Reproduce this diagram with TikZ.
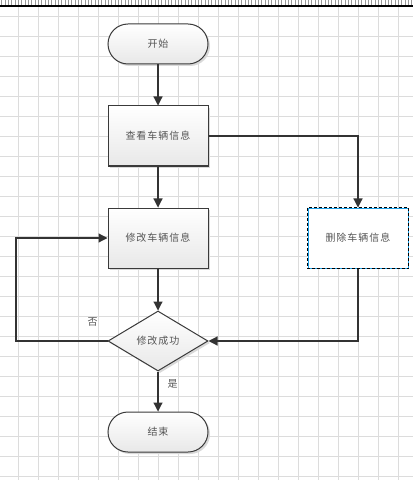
\documentclass[tikz,border=0pt]{standalone}
\usepackage{fontspec}
\newfontfamily\cjk[LetterSpace=10]{Noto Sans CJK SC}
\usetikzlibrary{shapes.geometric,arrows.meta,shadows}
\definecolor{gridc}{HTML}{DCDCDC}
\definecolor{linec}{HTML}{333333}
\definecolor{txtc}{HTML}{555555}
\definecolor{boxb}{HTML}{3A3A3A}
\definecolor{bluec}{HTML}{1CA0E8}
\tikzset{
  txt/.style={text=txtc, font=\cjk\fontsize{10bp}{12bp}\selectfont},
  base/.style={draw=boxb, line width=1bp, top color=white, bottom color=black!9,
    drop shadow={shadow xshift=2bp, shadow yshift=-2bp, fill=black!15, opacity=1},
    txt, inner sep=0pt},
  term/.style={base, minimum width=100bp, minimum height=40bp, rounded corners=20bp},
  proc/.style={base, minimum width=100bp, minimum height=60bp},
  plainproc/.style={draw=bluec, line width=1bp, fill=white, txt, inner sep=0pt,
    minimum width=100bp, minimum height=60bp},
  dec/.style={base, diamond, aspect=1.667, minimum width=100bp, minimum height=60bp},
  arr/.style={draw=linec, line width=1.2bp, -{Triangle[length=9bp,width=9bp]}},
  lbl/.style={txt, inner sep=0pt}
}
\begin{document}
\begin{tikzpicture}[x=1bp,y=-1bp]
\useasboundingbox (0,0) rectangle (413,480);
\fill[white] (0,0) rectangle (413,480);
% grid
\foreach \k in {0,...,23} \draw[gridc, line width=0.8bp] (0,16+20*\k) -- (413,16+20*\k);
\foreach \k in {0,...,19} \draw[gridc, line width=0.8bp] (18+20*\k,6.5) -- (18+20*\k,480);
% ruler
\foreach \i in {0,...,124} \draw[black!40, line width=0.7bp] (1.7+\i*3.333,0) -- (1.7+\i*3.333,5.5);
\draw[black, line width=1.2bp] (0,6) -- (413,6);
% nodes
\node[term] (start) at (158,44) {开始};
\node[proc] (view) at (158,136) {查看车辆信息};
\node[proc] (edit) at (158,238) {修改车辆信息};
\node[plainproc] (del) at (358,238) {删除车辆信息};
\draw[black, line width=1bp, dash pattern=on 3bp off 2bp] (del.north west) rectangle (del.south east);
\node[dec] (ok) at (158,341) {修改成功};
\node[term] (end) at (158,432) {结束};
\coordinate (lc) at (16,341);
\node[lbl] (no) at (92.5,321.5) {否};
\node[lbl] (yes) at (172.5,383.5) {是};
% connectors
\draw[arr] (start) -- (view);
\draw[arr] (view) -- (edit);
\draw[arr] (view.east) -| (del.north);
\draw[arr] (edit) -- (ok);
\draw[arr] (del.south) |- (ok.east);
\draw[arr] (ok.west) -- (lc) |- (edit.west);
\draw[arr] (ok) -- (end);
\end{tikzpicture}
\end{document}
